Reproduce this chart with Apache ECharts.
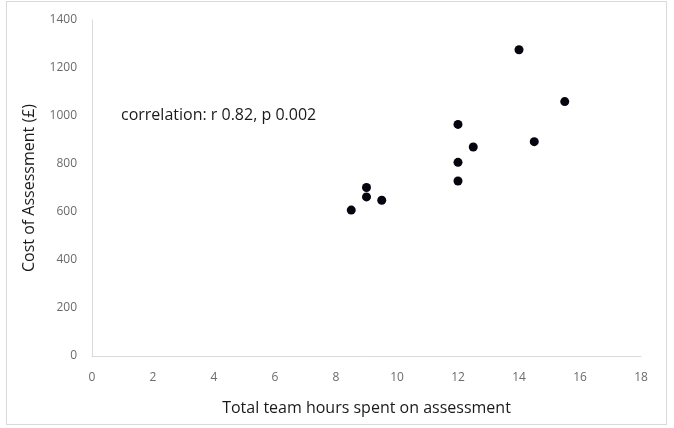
<!DOCTYPE html>
<html>
<head>
<meta charset="utf-8">
<script src="https://cdn.jsdelivr.net/npm/echarts@6/dist/echarts.min.js"></script>
<style>
  html, body { margin: 0; padding: 0; background: #fff; }
  #chart { width: 674px; height: 428px; }
  .frame { position: absolute; left: 6px; top: 1px; width: 661px; height: 424px; border: 1px solid #d9d9d9; box-sizing: border-box; pointer-events: none; }
</style>
</head>
<body>
<div id="chart"></div>
<div class="frame"></div>
<script>
// 团队工时 vs 评估费用
var hours = [8.5, 9, 9, 9.5, 12, 12, 12, 12.5, 14, 14.5, 15.5];
var cost = [608, 702, 663, 649, 965, 807, 729, 871, 1276, 893, 1060];
var xTicks = [0, 18, 2];      // min, max, interval
var yTicks = [0, 1400, 200];
var note = 'correlation: r 0.82, p 0.002';

var points = hours.map(function (h, i) { return [h, cost[i]]; });

var myChart = echarts.init(document.getElementById('chart'));
var option = {
    animation: false,
    title: {
        text: note,
        left: 116,
        top: 102,
        textStyle: { color: '#1a1a1a', fontSize: 16, fontWeight: 'normal', fontFamily: 'Open Sans' }
    },
    grid: { left: 92, right: 33, top: 20, bottom: 72 },
    xAxis: {
        type: 'value',
        min: xTicks[0], max: xTicks[1], interval: xTicks[2],
        name: 'Total team hours spent on assessment',
        nameLocation: 'middle',
        nameGap: 44,
        nameTextStyle: { color: '#1a1a1a', fontSize: 16, fontFamily: 'Open Sans' },
        axisLine: { show: true, lineStyle: { color: '#d9d9d9', width: 1 } },
        axisTick: { show: false },
        splitLine: { show: false },
        axisLabel: { color: '#6b6b6b', fontSize: 12, margin: 16, fontFamily: 'Open Sans' }
    },
    yAxis: {
        type: 'value',
        min: yTicks[0], max: yTicks[1], interval: yTicks[2],
        name: 'Cost of Assessment (£)',
        nameLocation: 'middle',
        nameGap: 55,
        nameTextStyle: { color: '#1a1a1a', fontSize: 16, fontFamily: 'Open Sans' },
        axisLine: { show: true, lineStyle: { color: '#d9d9d9', width: 1 } },
        axisTick: { show: false },
        splitLine: { show: false },
        axisLabel: {
            color: '#6b6b6b', fontSize: 12, margin: 15, fontFamily: 'Open Sans',
            formatter: function (v) { return String(v); }
        }
    },
    series: [{
        type: 'scatter',
        symbolSize: 9,
        itemStyle: { color: '#05050f', opacity: 1 },
        data: points
    }]
};
myChart.setOption(option);
</script>
</body>
</html>
